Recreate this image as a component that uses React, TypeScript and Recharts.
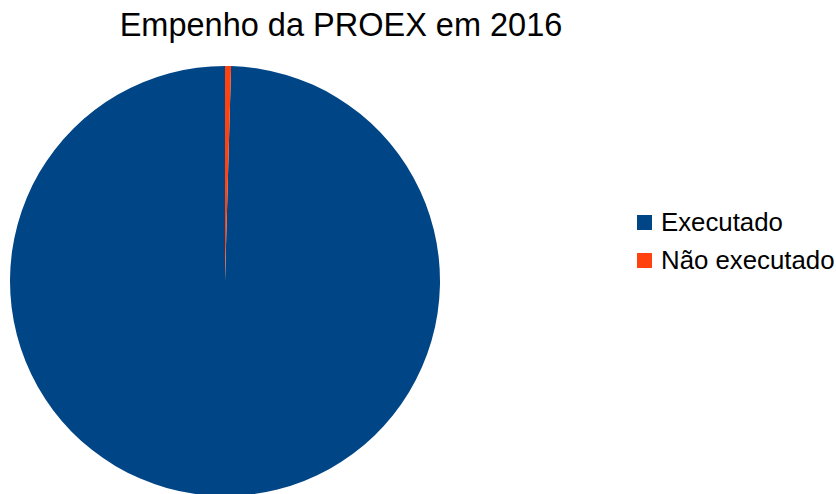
import React from 'react';
import { PieChart, Pie, Cell, Legend } from 'recharts';

const categories = ['Executado', 'Não executado'];
const values = [99.55, 0.45];
const COLORS = ['#004586', '#ff420e'];
const TITLE = 'Empenho da PROEX em 2016';

const data = categories.map((name, i) => ({ name, value: values[i] }));

const FONT = '"Liberation Sans", Arial, sans-serif';

const CustomLegend = () => (
  <div style={{ fontFamily: FONT, fontSize: 25.8, color: '#000' }}>
    {categories.map((c, i) => (
      <div key={c} style={{ display: 'flex', alignItems: 'center', height: 38, whiteSpace: 'nowrap' }}>
        <span style={{ width: 15, height: 15, background: COLORS[i], marginRight: 9, display: 'inline-block' }} />
        <span>{c}</span>
      </div>
    ))}
  </div>
);

export default function App() {
  return (
    <div style={{ position: 'relative', width: 836, height: 494, background: '#fff', overflow: 'hidden' }}>
      <style>{'body{margin:0}'}</style>
      <div
        style={{
          position: 'absolute',
          left: 0,
          width: 682,
          top: 3,
          textAlign: 'center',
          fontFamily: FONT,
          fontSize: 32.5,
          lineHeight: '44px',
          color: '#000',
          whiteSpace: 'nowrap',
        }}
      >
        {TITLE}
      </div>
      <PieChart width={836} height={494} margin={{ top: 0, right: 0, bottom: 0, left: 0 }}>
        <Pie
          data={data}
          dataKey="value"
          nameKey="name"
          cx={225}
          cy={281}
          outerRadius={215}
          startAngle={90}
          endAngle={450}
          stroke="none"
          isAnimationActive={false}
        >
          {data.map((d, i) => (
            <Cell key={d.name} fill={COLORS[i]} />
          ))}
        </Pie>
        <Legend
          content={<CustomLegend />}
          wrapperStyle={{ position: 'absolute', left: 637, top: 203, width: 199 }}
        />
      </PieChart>
    </div>
  );
}
